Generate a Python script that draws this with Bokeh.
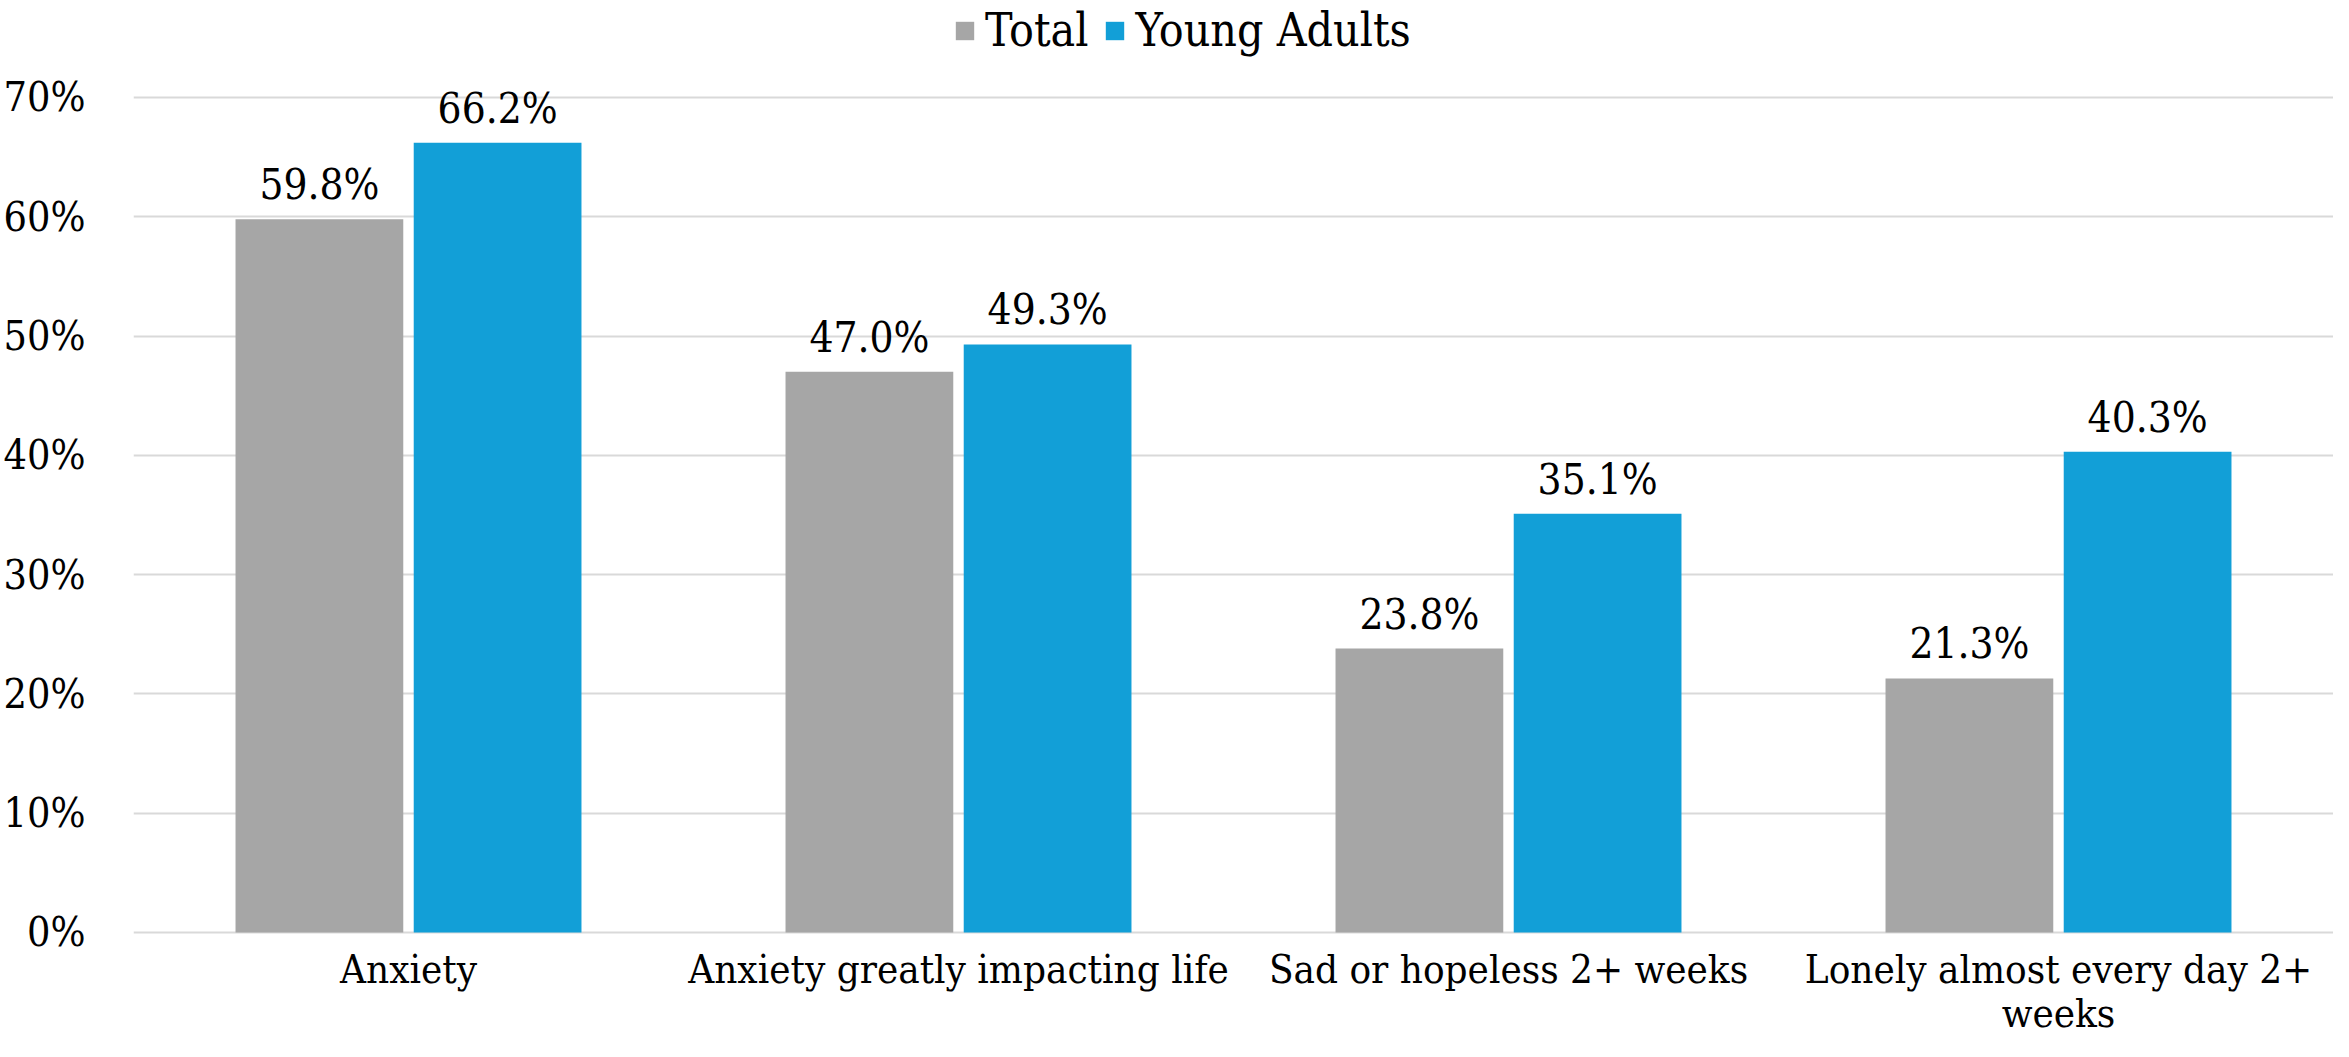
from bokeh.plotting import figure
from bokeh.models import ColumnDataSource, FactorRange, Range1d, FixedTicker, PrintfTickFormatter, Legend, LegendItem
from bokeh.transform import dodge
from bokeh.core.properties import value
from bokeh.embed import file_html
from bokeh.resources import INLINE

categories = ["Anxiety", "Anxiety greatly impacting life", "Sad or hopeless 2+ weeks", "Lonely almost every day 2+\nweeks"]
total = [59.8, 47.0, 23.8, 21.3]
young_adults = [66.2, 49.3, 35.1, 40.3]
series_names = ["Total", "Young Adults"]
y_ticks = [0, 10, 20, 30, 40, 50, 60, 70]

FONT = "DejaVu Serif Condensed"
GRAY = "#A6A6A6"
BLUE = "#129FD7"

src = ColumnDataSource(dict(
    cat=categories,
    total=total,
    young=young_adults,
    total_lbl=[f"{v:.1f}%" for v in total],
    young_lbl=[f"{v:.1f}%" for v in young_adults],
    base=[0.0] * len(categories),
))

W, H = 2333, 1041
p = figure(width=W, height=H, x_range=FactorRange(*categories),
           y_range=Range1d(-9.14, 78.13), output_backend="svg", toolbar_location=None,
           min_border_left=132, min_border_right=0, min_border_top=0, min_border_bottom=0)

off = 0.162
bw = 0.305
r1 = p.vbar(x=dodge("cat", -off, range=p.x_range), top="total", width=bw, source=src,
            fill_color=GRAY, line_color=None)
r2 = p.vbar(x=dodge("cat", off, range=p.x_range), top="young", width=bw, source=src,
            fill_color=BLUE, line_color=None)

for col, lbl, o in (("total", "total_lbl", -off), ("young", "young_lbl", off)):
    p.text(x=dodge("cat", o, range=p.x_range), y=col, text=lbl, source=src,
           text_font=value(FONT), text_font_size="42px", text_color="#000000",
           text_align="center", text_baseline="bottom", y_offset=-10)

# category labels under the zero line
p.text(x="cat", y="base", text="cat", source=src, text_font=value(FONT),
       text_font_size="40px", text_color="#000000", text_align="center",
       text_baseline="top", y_offset=14, text_line_height=0.95)

p.outline_line_color = None
p.xgrid.grid_line_color = None
p.xaxis.visible = False
p.ygrid.grid_line_color = "#D9D9D9"
p.ygrid.grid_line_width = 2
p.ygrid.ticker = FixedTicker(ticks=y_ticks)
p.yaxis.ticker = FixedTicker(ticks=y_ticks)
p.yaxis.formatter = PrintfTickFormatter(format="%d%%")
p.yaxis.axis_line_color = None
p.yaxis.major_tick_line_color = None
p.yaxis.minor_tick_line_color = None
p.yaxis.major_label_text_font = FONT
p.yaxis.major_label_text_font_size = "41px"
p.yaxis.major_label_text_color = "#000000"
p.yaxis.major_label_standoff = 42

legend = Legend(items=[LegendItem(label=series_names[0], renderers=[r1]),
                       LegendItem(label=series_names[1], renderers=[r2])],
                location=(820, 984), orientation="horizontal",
                border_line_color=None, background_fill_alpha=0,
                label_text_font=FONT, label_text_font_size="46px", label_text_color="#000000",
                glyph_width=23, glyph_height=23, label_standoff=9, spacing=15,
                margin=0, padding=0)
p.add_layout(legend, "center")

open("out.html", "w").write(file_html(p, INLINE))
